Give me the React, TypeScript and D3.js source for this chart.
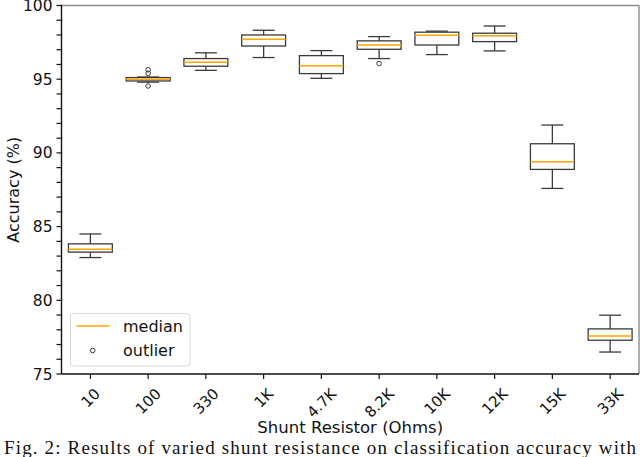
import React from "react";
import { scaleLinear, range } from "d3";

const categories = ["10", "100", "330", "1K", "4.7K", "8.2K", "10K", "12K", "15K", "33K"];
const whiskerLow = [82.9, 94.8, 95.6, 96.47, 95.06, 96.4, 96.67, 96.92, 87.59, 76.49];
const q1 = [83.27, 94.88, 95.88, 97.25, 95.38, 97.03, 97.32, 97.55, 88.88, 77.29];
const median = [83.47, 95.0, 96.15, 97.71, 95.92, 97.32, 97.98, 97.94, 89.4, 77.58];
const q3 = [83.83, 95.11, 96.4, 98.0, 96.6, 97.6, 98.19, 98.12, 90.62, 78.06];
const whiskerHigh = [84.5, 95.15, 96.79, 98.32, 96.94, 97.89, 98.26, 98.61, 91.89, 78.99];
const outliers: number[][] = [[], [95.64, 95.4, 94.54], [], [], [], [96.06], [], [], [], []];
const yMajor = [75, 80, 85, 90, 95, 100];

const W = 640;
const H = 457;
const left = 61.5;
const right = 639;
const top = 5.5;
const bottom = 374;
const font = "DejaVu Sans, sans-serif";
const boxStroke = "#3a3a3a";
const medColor = "#ffa500";
const tickFs = 15;

// rough DejaVu Sans advance widths, in em
function textWidth(s: string, fs: number) {
  let w = 0;
  for (const ch of s) w += ch === "." ? 0.318 : ch === "K" ? 0.656 : 0.636;
  return w * fs;
}

export default function App() {
  const x = scaleLinear().domain([0.5, categories.length + 0.5]).range([left, right]);
  const y = scaleLinear().domain([75, 100]).range([bottom, top]);
  const bw = x(1.38) - x(1);
  const cw = bw / 2;

  return (
    <svg width={W} height={H} style={{ position: "absolute", left: 0, top: 0, background: "#fff" }}>
      {/* boxes */}
      {categories.map((c, i) => {
        const cx = x(i + 1);
        return (
          <g key={c} fill="none" stroke={boxStroke} strokeWidth={1.3}>
            <rect x={cx - bw} y={y(q3[i])} width={bw * 2} height={y(q1[i]) - y(q3[i])} />
            <line x1={cx} x2={cx} y1={y(q3[i])} y2={y(whiskerHigh[i])} />
            <line x1={cx} x2={cx} y1={y(q1[i])} y2={y(whiskerLow[i])} />
            <line x1={cx - cw} x2={cx + cw} y1={y(whiskerHigh[i])} y2={y(whiskerHigh[i])} />
            <line x1={cx - cw} x2={cx + cw} y1={y(whiskerLow[i])} y2={y(whiskerLow[i])} />
            <line x1={cx - bw} x2={cx + bw} y1={y(median[i])} y2={y(median[i])} stroke={medColor} strokeWidth={1.5} />
            {outliers[i].map((o, j) => (
              <circle key={j} cx={cx} cy={y(o)} r={2.3} strokeWidth={1} />
            ))}
          </g>
        );
      })}

      {/* spines */}
      <line x1={left} x2={right} y1={top} y2={top} stroke="#8a8a8a" strokeWidth={1.6} />
      <line x1={right} x2={right} y1={top} y2={bottom} stroke="#8a8a8a" strokeWidth={1.4} />
      <line x1={left} x2={left} y1={top - 0.8} y2={bottom} stroke="#111" strokeWidth={1.4} />
      <line x1={left} x2={right} y1={bottom} y2={bottom} stroke="#111" strokeWidth={1.4} />

      {/* y ticks */}
      {range(75, 101).map((v) => (
        <line key={v} x1={left - 5} x2={left} y1={y(v)} y2={y(v)} stroke="#111" strokeWidth={1.2} />
      ))}
      {yMajor.map((v) => (
        <text key={v} x={left - 9} y={y(v)} dy="0.36em" textAnchor="end" fontFamily={font} fontSize={15.5} fill="#111">
          {v}
        </text>
      ))}
      <text
        transform={`translate(19,${(top + bottom) / 2}) rotate(-90)`}
        textAnchor="middle"
        fontFamily={font}
        fontSize={16}
        fill="#111"
      >
        Accuracy (%)
      </text>

      {/* x ticks */}
      {categories.map((c, i) => {
        const half = (textWidth(c, tickFs) + 0.73 * tickFs) / (2 * Math.SQRT2);
        return (
          <g key={c}>
            <line x1={x(i + 1)} x2={x(i + 1)} y1={bottom} y2={bottom + 5} stroke="#111" strokeWidth={1.2} />
            <text
              transform={`translate(${x(i + 1)},${bottom + 13 + half}) rotate(-45)`}
              textAnchor="middle"
              dy="0.36em"
              fontFamily={font}
              fontSize={tickFs}
              fill="#111"
            >
              {c}
            </text>
          </g>
        );
      })}
      <text x={(left + right) / 2} y={433} textAnchor="middle" fontFamily={font} fontSize={16.5} fill="#111">
        Shunt Resistor (Ohms)
      </text>

      {/* legend */}
      <rect x={70.5} y={313.5} width={119.5} height={52.5} rx={3} fill="#fff" fillOpacity={0.8} stroke="#d8d8d8" />
      <line x1={76.5} x2={109.5} y1={326} y2={326} stroke={medColor} strokeWidth={1.5} />
      <text x={123} y={331.5} fontFamily={font} fontSize={16} fill="#111">median</text>
      <circle cx={92.7} cy={350.5} r={2.3} fill="none" stroke={boxStroke} strokeWidth={1} />
      <text x={123} y={356} fontFamily={font} fontSize={16} fill="#111">outlier</text>

      {/* caption */}
      <text x={4} y={454} textLength={632} lengthAdjust="spacing" fontFamily="Liberation Serif, serif" fontSize={19} fill="#111">
        Fig. 2: Results of varied shunt resistance on classification accuracy with
      </text>
    </svg>
  );
}
